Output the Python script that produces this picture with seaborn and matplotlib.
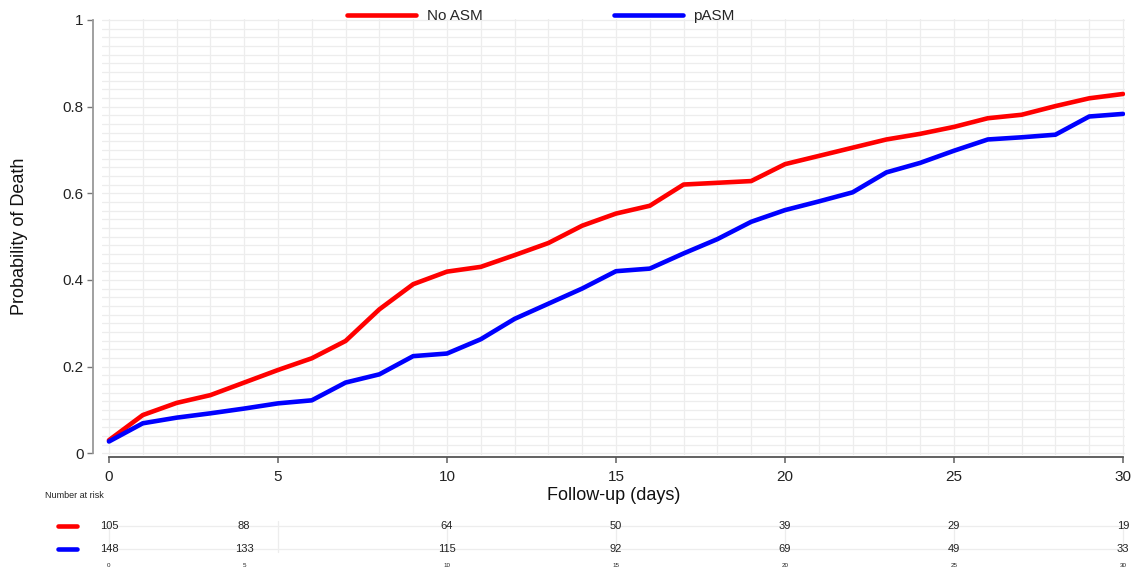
import numpy as np
import pandas as pd
import matplotlib
matplotlib.use("Agg")
import matplotlib.pyplot as plt
import seaborn as sns

# follow-up days and cumulative probability of death per group
days = list(range(0, 31))
no_asm = [0.030, 0.088, 0.116, 0.134, 0.163, 0.192, 0.219, 0.259, 0.332, 0.390,
          0.419, 0.430, 0.457, 0.485, 0.525, 0.553, 0.571, 0.620, 0.624, 0.628,
          0.667, 0.686, 0.705, 0.724, 0.737, 0.753, 0.773, 0.781, 0.801, 0.819,
          0.829]
pasm = [0.027, 0.069, 0.082, 0.092, 0.103, 0.115, 0.122, 0.163, 0.182, 0.224,
        0.230, 0.263, 0.310, 0.345, 0.380, 0.420, 0.426, 0.461, 0.494, 0.534,
        0.561, 0.581, 0.602, 0.648, 0.670, 0.698, 0.724, 0.729, 0.735, 0.777,
        0.783]

groups = ["No ASM", "pASM"]
colors = {"No ASM": "red", "pASM": "blue"}

# number at risk table
risk_pos = [0, 4, 10, 15, 20, 25, 30]
risk_labels = ["0", "5", "10", "15", "20", "25", "30"]
risk_no_asm = [105, 88, 64, 50, 39, 29, 19]
risk_pasm = [148, 133, 115, 92, 69, 49, 33]

df = pd.DataFrame({
    "day": days * 2,
    "prob": no_asm + pasm,
    "group": ["No ASM"] * len(days) + ["pASM"] * len(days),
})

sns.set_theme(style="white")
plt.rcParams["font.family"] = ["Liberation Sans", "DejaVu Sans"]

fig = plt.figure(figsize=(11.36, 5.70), dpi=100)
W, H = 1136, 570
x0, x1 = 102.2, 1124.7
ax = fig.add_axes([x0 / W, (570 - 454.5) / H, (x1 - x0) / W, (454.5 - 19.0) / H])

sns.lineplot(data=df, x="day", y="prob", hue="group", palette=colors,
             linewidth=3.3, ax=ax, legend=False, zorder=3)

ax.set_xlim(-0.2, 30.05)
ax.set_ylim(-0.003, 1.002)

# light grid
for d in days:
    ax.axvline(d, color="#ededed", lw=0.9, zorder=0)
for v in np.arange(0, 1.001, 0.02):
    ax.axhline(v, color="#ededed", lw=0.9, zorder=0)

ax.set_xticks(range(0, 31, 5))
ax.set_yticks(np.arange(0, 1.01, 0.2))
ax.set_yticklabels([f"{v:g}" for v in np.arange(0, 1.01, 0.2)])
for s in ["top", "right"]:
    ax.spines[s].set_visible(False)
ax.spines["left"].set_position(("outward", 6.5))
ax.spines["left"].set_bounds(0, 1)
ax.spines["left"].set_color("#999999")
ax.spines["left"].set_linewidth(1.3)
ax.spines["bottom"].set_position(("outward", 2))
ax.spines["bottom"].set_bounds(0, 30)
ax.spines["bottom"].set_color("#555555")
ax.spines["bottom"].set_linewidth(1.3)
ax.tick_params(axis="y", length=4.5, width=1, color="#777777", pad=2.5,
               labelsize=11, labelcolor="#222222", left=True)
ax.tick_params(axis="x", length=4, width=1.3, color="#777777", pad=5,
               labelsize=11, labelcolor="#222222", bottom=True)

ax.set_xlabel("Follow-up (days)", fontsize=13, color="#111111")
ax.xaxis.set_label_coords(0.5005, -0.075)
ax.set_ylabel("Probability of Death", fontsize=13, color="#111111")
ax.yaxis.set_label_coords(-0.0725, 0.5)

handles = [plt.Line2D([], [], color=colors[g], lw=3.3) for g in groups]
fig.legend(handles, groups, loc="center", bbox_to_anchor=(0.4762, 1 - 16 / H),
           ncol=2, frameon=False, fontsize=11, handlelength=4.5,
           handletextpad=0.7, columnspacing=8.6, borderpad=0)

# number at risk table
tab = fig.add_axes([x0 / W, (570 - 555) / H, (x1 - x0) / W, 36 / H])
tab.set_xlim(ax.get_xlim())
tab.set_ylim(-0.26, 1.30)
tab.axis("off")
for r in [0, 1]:
    tab.plot([-0.6, 30], [r, r], color="#ededed", lw=0.9, zorder=0)
for d in range(0, 31, 5):
    tab.plot([d, d], [-0.12, 1.2], color="#ededed", lw=0.9, zorder=0)
for p, a, b, lab in zip(risk_pos, risk_no_asm, risk_pasm, risk_labels):
    tab.text(p, 1, str(a), ha="center", va="center", fontsize=8, color="#222222")
    tab.text(p, 0, str(b), ha="center", va="center", fontsize=8, color="#222222")
    tab.text(p, -0.70, lab, ha="center", va="center", fontsize=4.5,
             color="#222222", clip_on=False)
tab.plot([-1.52, -0.95], [1, 1], color=colors["No ASM"], lw=3.3,
         solid_capstyle="round", clip_on=False)
tab.plot([-1.52, -0.95], [0, 0], color=colors["pASM"], lw=3.3,
         solid_capstyle="round", clip_on=False)
fig.text(45 / W, 1 - 496 / H, "Number at risk", fontsize=6.5, color="#222222",
         ha="left", va="center")

fig.savefig("out.png", dpi=100)
